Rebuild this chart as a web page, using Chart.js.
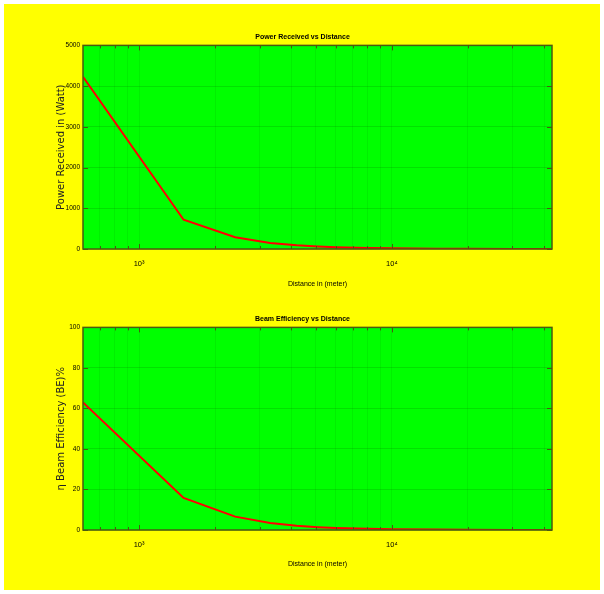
<!DOCTYPE html>
<html>
<head>
<meta charset="utf-8">
<script src="https://cdn.jsdelivr.net/npm/chart.js@4/dist/chart.umd.min.js"></script>
<style>
  body { margin: 0; background: #fff; }
  #bg { position: absolute; left: 4px; top: 4px; width: 596px; height: 586px; background: #ffff00; }
  .box { position: absolute; left: 0; width: 604px; height: 297px; }
</style>
</head>
<body>
<div id="bg"></div>
<div class="box" style="top:0"><canvas id="powerChart"></canvas></div>
<div class="box" style="top:297px"><canvas id="beamChart"></canvas></div>
<script>
// distance in meter (log axis)
const distances = [600, 1500, 2400, 3300, 4200, 5100, 6000, 8000, 10000, 15000, 20000, 30000, 43000];
// power received (Watt)
const powerW = [4230, 718, 290, 150, 92, 62, 45, 25, 16, 7, 4, 2, 1];
// beam efficiency %
const beamEff = [63, 15.8, 6.6, 3.5, 2.1, 1.4, 1.0, 0.6, 0.4, 0.2, 0.1, 0.05, 0.02];

const xTicks = [700, 800, 900, 1000, 2000, 3000, 4000, 5000, 6000, 7000, 8000, 9000, 10000, 20000, 30000, 40000];
const powerTicks = [0, 1000, 2000, 3000, 4000, 5000];
const beamTicks = [0, 20, 40, 60, 80, 100];

const narrow = "'Liberation Sans Narrow', 'Arial Narrow', Arial, sans-serif";

// green plot area, frame and inward tick marks like matlab
const plotBox = {
  id: 'plotBox',
  beforeDraw(chart) {
    const a = chart.chartArea, ctx = chart.ctx;
    ctx.save();
    ctx.fillStyle = '#00ff00';
    ctx.fillRect(a.left, a.top, a.right - a.left, a.bottom - a.top);
    ctx.restore();
  },
  afterDraw(chart) {
    const a = chart.chartArea, ctx = chart.ctx;
    const xs = chart.scales.x, ys = chart.scales.y;
    ctx.save();
    ctx.strokeStyle = '#4a5a10';
    ctx.lineWidth = 1;
    ctx.beginPath();
    xs.ticks.forEach(t => {
      const px = Math.round(xs.getPixelForValue(t.value)) + 0.5;
      const len = (t.value === 1000 || t.value === 10000) ? 5 : 3;
      ctx.moveTo(px, a.bottom); ctx.lineTo(px, a.bottom - len);
      ctx.moveTo(px, a.top); ctx.lineTo(px, a.top + len);
    });
    ys.ticks.forEach(t => {
      const py = Math.round(ys.getPixelForValue(t.value)) + 0.5;
      ctx.moveTo(a.left, py); ctx.lineTo(a.left + 5, py);
      ctx.moveTo(a.right, py); ctx.lineTo(a.right - 5, py);
    });
    ctx.stroke();
    ctx.lineWidth = 1.5;
    ctx.strokeRect(a.left, a.top, a.right - a.left, a.bottom - a.top);
    ctx.restore();
  }
};

function makeChart(id, values, yTicks, yMax, title, yTitle, pad) {
  const points = distances.map((d, i) => ({ x: d, y: values[i] }));
  return new Chart(document.getElementById(id), {
    type: 'line',
    data: {
      datasets: [{
        data: points,
        borderColor: '#ff0000',
        borderWidth: 2,
        pointRadius: 0,
        tension: 0
      }]
    },
    options: {
      responsive: true,
      maintainAspectRatio: false,
      animation: false,
      layout: { padding: { left: 53, right: 52, top: 0, bottom: pad.bottom } },
      plugins: {
        legend: { display: false },
        tooltip: { enabled: false },
        title: {
          display: true,
          text: title,
          color: '#000',
          font: { family: narrow, size: 7, weight: 'bold' },
          padding: { top: pad.titleTop, bottom: 4 }
        }
      },
      scales: {
        x: {
          type: 'logarithmic',
          min: 600,
          max: 43000,
          afterBuildTicks: s => { s.ticks = xTicks.map(v => ({ value: v })); },
          afterFit: s => { s.height = pad.xHeight; },
          ticks: {
            autoSkip: false,
            maxRotation: 0,
            padding: 10,
            color: '#000',
            font: { family: narrow, size: 7.5 },
            callback: v => v === 1000 ? '10\u00b3' : (v === 10000 ? '10\u2074' : '')
          },
          grid: { color: 'rgba(0,110,0,0.1)', drawTicks: false },
          border: { display: false },
          title: {
            display: true,
            text: 'Distance in (meter)',
            color: '#000',
            font: { family: narrow, size: 7 }
          }
        },
        y: {
          min: 0,
          max: yMax,
          afterBuildTicks: s => { s.ticks = yTicks.map(v => ({ value: v })); },
          afterFit: s => { s.width = 30; },
          ticks: {
            padding: 3,
            color: '#000',
            font: { family: narrow, size: 6.5 },
            callback: v => String(v)
          },
          grid: { color: 'rgba(0,110,0,0.2)', drawTicks: false },
          border: { display: false },
          title: {
            display: true,
            text: yTitle,
            color: '#222',
            font: { family: "'DejaVu Sans', sans-serif", size: 10 },
            padding: { top: 2, bottom: 2 }
          }
        }
      }
    },
    plugins: [plotBox]
  });
}

makeChart('powerChart', powerW, powerTicks, 5000, 'Power Received vs Distance',
  'Power Received in (Watt)', { titleTop: 33, bottom: 5, xHeight: 43 });
makeChart('beamChart', beamEff, beamTicks, 100, 'Beam Efficiency vs Distance',
  '\u03b7 Beam Efficiency (BE)%', { titleTop: 18, bottom: 22, xHeight: 42 });
</script>
</body>
</html>
